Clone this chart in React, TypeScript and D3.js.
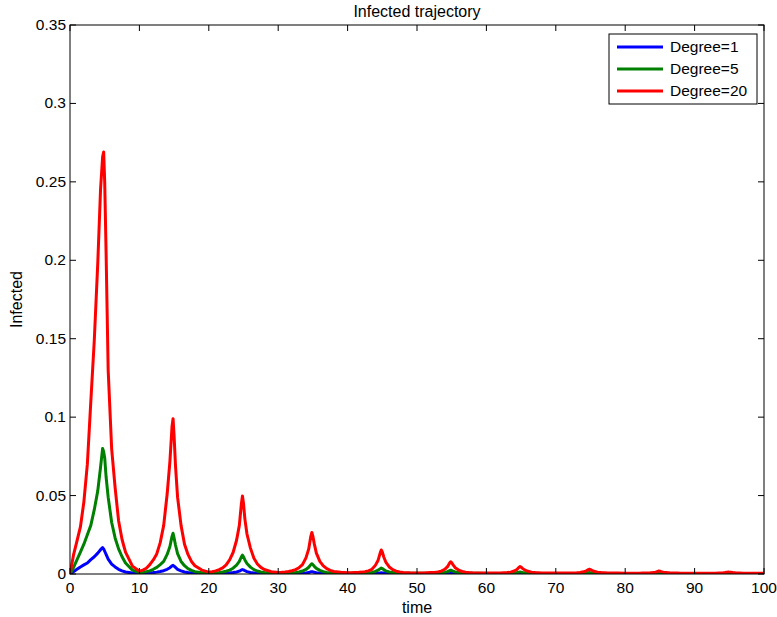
import React from 'react';
import * as d3 from 'd3';

// time samples (shared by all series)
const TIME = [
  0, 0.5, 1, 1.5, 2, 2.5, 3, 3.5, 4, 4.4, 4.7, 4.85, 5, 5.2, 5.5, 6, 6.5, 7, 7.5, 8, 9,
  10, 10.5, 11, 11.5, 12, 12.5, 13, 13.5, 14, 14.4, 14.7, 14.85, 15, 15.2, 15.5, 16, 16.5, 17, 17.5, 18, 19,
  20, 20.5, 21, 21.5, 22, 22.5, 23, 23.5, 24, 24.4, 24.7, 24.85, 25, 25.2, 25.5, 26, 26.5, 27, 27.5, 28, 29,
  30, 30.5, 31, 31.5, 32, 32.5, 33, 33.5, 34, 34.4, 34.7, 34.85, 35, 35.2, 35.5, 36, 36.5, 37, 37.5, 38, 39,
  40, 40.5, 41, 41.5, 42, 42.5, 43, 43.5, 44, 44.4, 44.7, 44.85, 45, 45.2, 45.5, 46, 46.5, 47, 47.5, 48, 49,
  50, 50.5, 51, 51.5, 52, 52.5, 53, 53.5, 54, 54.4, 54.7, 54.85, 55, 55.2, 55.5, 56, 56.5, 57, 57.5, 58, 59,
  60, 60.5, 61, 61.5, 62, 62.5, 63, 63.5, 64, 64.4, 64.7, 64.85, 65, 65.2, 65.5, 66, 66.5, 67, 67.5, 68, 69,
  70, 70.5, 71, 71.5, 72, 72.5, 73, 73.5, 74, 74.4, 74.7, 74.85, 75, 75.2, 75.5, 76, 76.5, 77, 77.5, 78, 79,
  80, 80.5, 81, 81.5, 82, 82.5, 83, 83.5, 84, 84.4, 84.7, 84.85, 85, 85.2, 85.5, 86, 86.5, 87, 87.5, 88, 89,
  90, 90.5, 91, 91.5, 92, 92.5, 93, 93.5, 94, 94.4, 94.7, 94.85, 95, 95.2, 95.5, 96, 96.5, 97, 97.5, 98, 99,
  100,
];

const DEGREE_1 = [
  0, 0.0015, 0.003, 0.0045, 0.0058, 0.007, 0.0092, 0.011, 0.0133, 0.0155, 0.0168, 0.016, 0.0145, 0.0125, 0.0095, 0.0063, 0.0045, 0.003, 0.002, 0.0013, 0.0006,
  0.0003, 0.0004, 0.0005, 0.0007, 0.0009, 0.0012, 0.0016, 0.0021, 0.003, 0.004, 0.0052, 0.0055, 0.005, 0.0042, 0.003, 0.002, 0.0013, 0.0009, 0.0006, 0.0004, 0.0003,
  0.0002, 0.0002, 0.00025, 0.0003, 0.0004, 0.0005, 0.0007, 0.0009, 0.0013, 0.0018, 0.0026, 0.0028, 0.0026, 0.0021, 0.0015, 0.001, 0.0007, 0.0005, 0.0003, 0.0002, 0.0002,
  0.0001, 0.0001, 0.0001, 0.00015, 0.0002, 0.00025, 0.0003, 0.0004, 0.0006, 0.0009, 0.0014, 0.0015, 0.0014, 0.0011, 0.0008, 0.0005, 0.0003, 0.0002, 0.00015, 0.0001, 0.0001,
  0.0001, 0.0001, 0.0001, 0.0001, 0.0001, 0.0001, 0.00015, 0.0002, 0.0003, 0.0005, 0.0007, 0.0008, 0.0007, 0.0006, 0.0004, 0.0003, 0.0002, 0.0001, 0.0001, 0.0001, 0.0001,
  0.0001, 0.0001, 0.0001, 0.0001, 0.0001, 0.0001, 0.0001, 0.0001, 0.0001, 0.0002, 0.0003, 0.0004, 0.0004, 0.0003, 0.0002, 0.0002, 0.0001, 0.0001, 0.0001, 0.0001, 0.0001,
  0.0001, 0.0001, 0.0001, 0.0001, 0.0001, 0.0001, 0.0001, 0.0001, 0.0001, 0.0001, 0.00015, 0.0002, 0.0002, 0.00015, 0.0001, 0.0001, 0.0001, 0.0001, 0.0001, 0.0001, 0.0001,
  0.0001, 0.0001, 0.0001, 0.0001, 0.0001, 0.0001, 0.0001, 0.0001, 0.0001, 0.0001, 0.0001, 0.00015, 0.00015, 0.0001, 0.0001, 0.0001, 0.0001, 0.0001, 0.0001, 0.0001, 0.0001,
  0.0001, 0.0001, 0.0001, 0.0001, 0.0001, 0.0001, 0.0001, 0.0001, 0.0001, 0.0001, 0.0001, 0.00012, 0.00012, 0.0001, 0.0001, 0.0001, 0.0001, 0.0001, 0.0001, 0.0001, 0.0001,
  0.0001, 0.0001, 0.0001, 0.0001, 0.0001, 0.0001, 0.0001, 0.0001, 0.0001, 0.0001, 0.0001, 0.00011, 0.00011, 0.0001, 0.0001, 0.0001, 0.0001, 0.0001, 0.0001, 0.0001, 0.0001,
  0.0001,
];

const DEGREE_5 = [
  0, 0.004, 0.009, 0.014, 0.019, 0.025, 0.031, 0.041, 0.053, 0.068, 0.080, 0.078, 0.074, 0.062, 0.049, 0.033, 0.023, 0.016, 0.011, 0.007, 0.0025,
  0.0008, 0.001, 0.0015, 0.002, 0.003, 0.0042, 0.006, 0.008, 0.0125, 0.0175, 0.024, 0.026, 0.023, 0.0185, 0.013, 0.008, 0.0053, 0.0034, 0.0023, 0.0015, 0.0008,
  0.0006, 0.0007, 0.0008, 0.001, 0.0013, 0.0018, 0.0025, 0.0037, 0.0057, 0.008, 0.011, 0.012, 0.011, 0.009, 0.0067, 0.0044, 0.0028, 0.0019, 0.0013, 0.0009, 0.0006,
  0.0005, 0.0005, 0.0006, 0.0007, 0.0008, 0.001, 0.0013, 0.0019, 0.0029, 0.0043, 0.006, 0.0065, 0.006, 0.0049, 0.0036, 0.0023, 0.0015, 0.001, 0.0008, 0.0006, 0.0005,
  0.0004, 0.0004, 0.0004, 0.0005, 0.0005, 0.0006, 0.0008, 0.001, 0.0016, 0.0024, 0.0034, 0.0038, 0.0035, 0.0028, 0.002, 0.0013, 0.0009, 0.0006, 0.0005, 0.0004, 0.0004,
  0.0004, 0.0004, 0.0004, 0.0004, 0.0004, 0.0005, 0.0006, 0.0007, 0.001, 0.0015, 0.0021, 0.0024, 0.0022, 0.0018, 0.0013, 0.0009, 0.0007, 0.0005, 0.0005, 0.0004, 0.0004,
  0.0003, 0.0003, 0.0003, 0.0003, 0.0003, 0.0003, 0.0004, 0.0005, 0.0007, 0.0009, 0.0012, 0.0013, 0.0012, 0.001, 0.0008, 0.0006, 0.0005, 0.0004, 0.0003, 0.0003, 0.0003,
  0.0003, 0.0003, 0.0003, 0.0003, 0.0003, 0.0003, 0.0003, 0.0004, 0.0005, 0.0006, 0.0008, 0.0009, 0.0008, 0.0007, 0.0006, 0.0005, 0.0004, 0.0003, 0.0003, 0.0003, 0.0003,
  0.0003, 0.0003, 0.0003, 0.0003, 0.0003, 0.0003, 0.0003, 0.0003, 0.0004, 0.0005, 0.0006, 0.0007, 0.0006, 0.0005, 0.0005, 0.0004, 0.0003, 0.0003, 0.0003, 0.0003, 0.0003,
  0.0003, 0.0003, 0.0003, 0.0003, 0.0003, 0.0003, 0.0003, 0.0003, 0.0003, 0.0004, 0.0005, 0.0005, 0.0005, 0.0004, 0.0004, 0.0003, 0.0003, 0.0003, 0.0003, 0.0003, 0.0003,
  0.0003,
];

const DEGREE_20 = [
  0, 0.012, 0.021, 0.030, 0.046, 0.070, 0.110, 0.149, 0.198, 0.245, 0.266, 0.269, 0.250, 0.205, 0.130, 0.080, 0.055, 0.034, 0.022, 0.014, 0.005,
  0.0018, 0.0025, 0.0037, 0.006, 0.009, 0.0128, 0.02, 0.031, 0.051, 0.072, 0.094, 0.099, 0.088, 0.069, 0.049, 0.031, 0.019, 0.0125, 0.008, 0.0053, 0.0025,
  0.0012, 0.0015, 0.002, 0.0028, 0.0039, 0.0058, 0.009, 0.0137, 0.0215, 0.031, 0.045, 0.0497, 0.045, 0.035, 0.0255, 0.0165, 0.01, 0.0064, 0.0042, 0.0029, 0.0015,
  0.001, 0.0011, 0.0013, 0.0016, 0.0021, 0.0028, 0.004, 0.006, 0.0103, 0.016, 0.024, 0.0265, 0.024, 0.0192, 0.0133, 0.0081, 0.0052, 0.0034, 0.0023, 0.0016, 0.0011,
  0.0008, 0.0008, 0.0009, 0.001, 0.0012, 0.0015, 0.002, 0.003, 0.0055, 0.0088, 0.0135, 0.0153, 0.014, 0.011, 0.0076, 0.0045, 0.0028, 0.0018, 0.0013, 0.001, 0.0008,
  0.0007, 0.0007, 0.0007, 0.0008, 0.0009, 0.001, 0.0013, 0.0018, 0.003, 0.0047, 0.007, 0.0078, 0.0072, 0.0058, 0.004, 0.0025, 0.0016, 0.0011, 0.0009, 0.0008, 0.0007,
  0.0006, 0.0006, 0.0006, 0.0006, 0.0007, 0.0008, 0.0009, 0.0012, 0.0019, 0.0029, 0.0043, 0.0047, 0.0044, 0.0036, 0.0026, 0.0017, 0.0012, 0.0009, 0.0008, 0.0007, 0.0006,
  0.0006, 0.0006, 0.0006, 0.0006, 0.0006, 0.0007, 0.0008, 0.001, 0.0014, 0.002, 0.0028, 0.003, 0.0028, 0.0023, 0.0017, 0.0012, 0.0009, 0.0008, 0.0007, 0.0006, 0.0006,
  0.0005, 0.0005, 0.0005, 0.0005, 0.0005, 0.0006, 0.0006, 0.0007, 0.0009, 0.0012, 0.0017, 0.0019, 0.0018, 0.0015, 0.0012, 0.0009, 0.0007, 0.0006, 0.0006, 0.0005, 0.0005,
  0.0005, 0.0005, 0.0005, 0.0005, 0.0005, 0.0005, 0.0005, 0.0006, 0.0007, 0.0009, 0.0012, 0.0013, 0.0012, 0.0011, 0.0009, 0.0007, 0.0006, 0.0005, 0.0005, 0.0005, 0.0005,
  0.0005,
];

const SERIES_NAMES = ['Degree=1', 'Degree=5', 'Degree=20'];
const SERIES_COLORS = ['#0000ff', '#008000', '#ff0000'];
const X_TICKS = [0, 10, 20, 30, 40, 50, 60, 70, 80, 90, 100];
const Y_TICKS = [0, 0.05, 0.1, 0.15, 0.2, 0.25, 0.3, 0.35];
const Y_TICK_LABELS = ['0', '0.05', '0.1', '0.15', '0.2', '0.25', '0.3', '0.35'];

const W = 777;
const H = 617;
const PL = 70, PR = 764, PT = 25, PB = 574;
const FONT = '"Liberation Sans", Arial, Helvetica, sans-serif';

export default function App() {
  const x = d3.scaleLinear().domain([0, 100]).range([PL, PR]);
  const y = d3.scaleLinear().domain([0, 0.35]).range([PB, PT]);
  const seriesValues = [DEGREE_1, DEGREE_5, DEGREE_20];
  const line = d3
    .line<number>()
    .x((_, i) => x(TIME[i]))
    .y((d) => y(d));
  const tickLen = 6;
  const legendX = 609, legendY = 34, legendW = 148, legendH = 70;

  return (
    <svg
      width={W}
      height={H}
      style={{ position: 'absolute', left: 0, top: 0, background: '#fff' }}
      fontFamily={FONT}
    >
      <rect x={0} y={0} width={W} height={H} fill="#fff" />
      <defs>
        <clipPath id="plotclip">
          <rect x={PL} y={PT} width={PR - PL} height={PB - PT} />
        </clipPath>
      </defs>
      <rect x={PL} y={PT} width={PR - PL} height={PB - PT} fill="#fff" />
      {/* series */}
      <g clipPath="url(#plotclip)">
        {seriesValues.map((vals, i) => (
          <path
            key={i}
            d={line(vals) || ''}
            fill="none"
            stroke={SERIES_COLORS[i]}
            strokeWidth={3}
            strokeLinejoin="round"
          />
        ))}
      </g>
      {/* ticks */}
      <g stroke="#000" strokeWidth={1}>
        {X_TICKS.map((t) => (
          <g key={'xt' + t}>
            <line x1={x(t)} x2={x(t)} y1={PB} y2={PB - tickLen} />
            <line x1={x(t)} x2={x(t)} y1={PT} y2={PT + tickLen} />
          </g>
        ))}
        {Y_TICKS.map((t) => (
          <g key={'yt' + t}>
            <line x1={PL} x2={PL + tickLen} y1={y(t)} y2={y(t)} />
            <line x1={PR} x2={PR - tickLen} y1={y(t)} y2={y(t)} />
          </g>
        ))}
      </g>
      <rect x={PL} y={PT} width={PR - PL} height={PB - PT} fill="none" stroke="#000" strokeWidth={1} />
      {/* tick labels */}
      <g fontSize={15.5} fill="#000">
        {X_TICKS.map((t) => (
          <text key={'xl' + t} x={x(t)} y={PB + 19} textAnchor="middle">
            {String(t)}
          </text>
        ))}
        {Y_TICKS.map((t, i) => (
          <text key={'yl' + t} x={PL - 4} y={y(t) + 5} textAnchor="end">
            {Y_TICK_LABELS[i]}
          </text>
        ))}
      </g>
      {/* titles */}
      <text x={(PL + PR) / 2} y={17} textAnchor="middle" fontSize={16} fill="#000">
        Infected trajectory
      </text>
      <text x={(PL + PR) / 2} y={613} textAnchor="middle" fontSize={16} fill="#000">
        time
      </text>
      <text
        transform={`translate(22, ${(PT + PB) / 2}) rotate(-90)`}
        textAnchor="middle"
        fontSize={16}
        fill="#000"
      >
        Infected
      </text>
      {/* legend */}
      <g>
        <rect x={legendX} y={legendY} width={legendW} height={legendH} fill="#fff" stroke="#000" strokeWidth={1} />
        {SERIES_NAMES.map((name, i) => (
          <g key={name}>
            <line
              x1={617}
              x2={663}
              y1={legendY + 13 + i * 22}
              y2={legendY + 13 + i * 22}
              stroke={SERIES_COLORS[i]}
              strokeWidth={3}
            />
            <text x={670} y={legendY + 18 + i * 22} fontSize={15.5} fill="#000">
              {name}
            </text>
          </g>
        ))}
      </g>
    </svg>
  );
}
